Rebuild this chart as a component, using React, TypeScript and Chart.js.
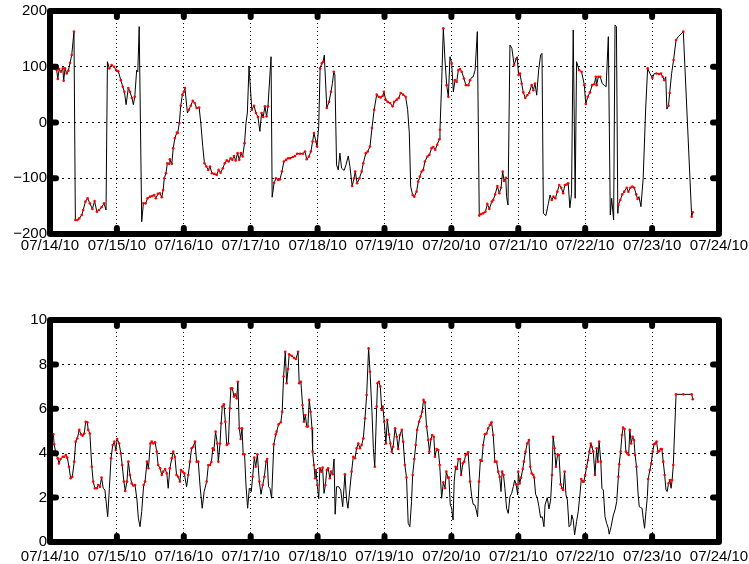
import React, { useEffect, useRef } from 'react';
import { Chart, registerables } from 'chart.js';

Chart.register(...registerables);

// ---- categories / tick labels ----
const dayLabels = ['07/14/10', '07/15/10', '07/16/10', '07/17/10', '07/18/10', '07/19/10', '07/20/10', '07/21/10', '07/22/10', '07/23/10', '07/24/10'];
const topTicks = [-200, -100, 0, 100, 200];
const botTicks = [0, 2, 4, 6, 8, 10];

// ---- top series: hours since 07/14/10 00:00, value, valid flag (1 = red marker) ----
const topHours = [
  0.0, 0.6, 1.2, 1.8, 2.4, 2.8, 3.3, 3.9, 4.6, 4.9,
  5.4, 6.0, 6.6, 7.2, 7.8, 8.6, 9.1, 9.8, 10.5, 11.4,
  11.9, 12.7, 13.5, 14.3, 15.2, 16.0, 16.8, 17.6, 18.5, 19.4,
  20.1, 20.6, 21.3, 22.1, 23.0, 23.7, 24.5, 25.4, 26.1, 26.7,
  27.3, 28.1, 28.7, 29.4, 29.9, 30.4, 31.1, 31.5, 32.0, 32.9,
  33.5, 34.3, 35.0, 35.9, 36.7, 37.4, 38.0, 38.7, 39.4, 40.1,
  40.6, 41.0, 41.6, 42.1, 42.7, 43.0, 43.7, 44.2, 44.8, 45.5,
  45.8, 46.4, 46.9, 47.5, 48.0, 48.4, 49.3, 49.8, 50.5, 51.2,
  51.9, 52.6, 53.5, 54.1, 54.8, 55.4, 56.1, 56.8, 57.4, 58.1,
  58.9, 59.8, 60.5, 61.2, 62.0, 62.7, 63.4, 64.1, 64.8, 65.4,
  66.0, 66.6, 67.3, 67.9, 68.5, 69.1, 69.8, 70.3, 70.8, 71.4,
  72.4, 73.2, 73.9, 74.6, 75.3, 75.9, 76.5, 77.1, 77.7, 78.2,
  79.3, 79.7, 80.4, 81.1, 81.9, 82.5, 83.2, 83.9, 84.7, 85.4,
  86.1, 87.1, 87.9, 88.7, 89.7, 90.7, 91.5, 92.1, 92.9, 93.6,
  94.2, 94.7, 95.4, 95.8, 96.4, 96.9, 97.5, 98.0, 98.4, 99.3,
  100.1, 100.8, 101.3, 101.8, 102.2, 102.8, 103.4, 104.0, 104.6, 105.5,
  106.2, 107.0, 107.6, 108.4, 109.1, 109.5, 110.2, 111.0, 111.8, 112.4,
  113.3, 114.0, 114.8, 115.5, 116.3, 117.2, 117.9, 118.6, 119.4, 119.8,
  120.4, 121.1, 122.0, 122.9, 123.5, 124.4, 125.1, 125.8, 126.7, 127.6,
  128.3, 128.9, 129.4, 130.1, 130.7, 131.5, 132.1, 132.7, 133.3, 133.9,
  134.5, 135.4, 136.1, 136.9, 137.5, 138.2, 138.9, 139.7, 139.9, 140.5,
  141.1, 141.7, 142.3, 142.9, 143.5, 144.1, 144.7, 145.3, 145.9, 146.5,
  147.1, 147.7, 148.5, 149.2, 150.1, 150.7, 151.3, 151.8, 152.5, 153.3,
  154.0, 154.7, 155.4, 156.2, 156.9, 157.6, 158.5, 159.0, 159.7, 160.5,
  161.2, 161.8, 162.4, 162.9, 163.5, 163.8, 164.3, 165.0, 165.7, 166.5,
  167.2, 167.6, 168.1, 168.6, 169.2, 169.8, 170.5, 171.2, 171.9, 172.8,
  173.4, 174.0, 174.6, 175.3, 176.0, 176.5, 177.0, 177.9, 178.8, 179.4,
  180.0, 180.6, 181.3, 182.0, 182.7, 183.4, 184.1, 184.7, 185.4, 185.9,
  186.5, 187.1, 187.7, 188.4, 188.9, 189.8, 190.7, 191.7, 192.2, 192.9,
  193.7, 194.5, 195.3, 195.8, 196.1, 196.7, 197.4, 198.1, 198.8, 199.5,
  200.3, 201.0, 201.5, 202.2, 202.7, 203.2, 203.7, 203.9, 204.6, 205.3,
  206.0, 206.9, 207.5, 208.2, 208.9, 209.6, 210.3, 210.8, 211.3, 212.0,
  212.8, 213.7, 214.4, 215.2, 216.1, 216.8, 217.6, 218.5, 219.2, 219.8,
  220.4, 220.9, 221.3, 221.9, 222.3, 223.0, 223.7, 224.6, 225.4, 227.2,
  230.2, 230.6,
];
const topValues = [
  108, 105, 100, 97, 94, 78, 96, 91, 97, 75,
  97, 88, 93, 107, 121, 163, -175, -175, -172, -166,
  -157, -142, -136, -145, -155, -141, -160, -157, -152, -145,
  -157, 109, 97, 103, 100, 94, 92, 76, 64, 55,
  32, 62, 55, 44, 32, 46, 94, 91, 172, -178,
  -145, -145, -136, -133, -132, -130, -136, -128, -127, -134,
  -121, -100, -91, -73, -74, -66, -74, -46, -28, -18,
  -19, -1, 30, 50, 55, 62, 17, 23, 30, 39,
  35, 26, 27, -1, -43, -73, -79, -85, -79, -91,
  -92, -94, -85, -90, -82, -73, -68, -70, -64, -67,
  -60, -68, -55, -67, -55, -61, -37, -1, 17, 100,
  23, 30, 17, 10, -16, 17, 10, 29, 11, 29,
  118, -134, -108, -100, -103, -102, -88, -70, -67, -64,
  -64, -62, -60, -56, -56, -56, -52, -66, -61, -52,
  -34, -19, -34, -43, -7, 97, 106, 109, 121, 26,
  37, 55, 70, 91, 85, -76, -85, -55, -82, -86,
  -76, -60, -79, -114, -100, -88, -109, -100, -88, -73,
  -55, -52, -43, -10, 23, 50, 46, 45, 48, 55,
  41, 37, 35, 29, 37, 41, 44, 53, 50, 46,
  23, -19, -115, -130, -133, -124, -106, -97, -88, -85,
  -70, -61, -58, -46, -44, -49, -40, -30, -13, 70,
  169, 112, 67, 46, 118, 106, 55, 76, 73, 94,
  96, 91, 79, 67, 67, 76, 81, 82, 94, 163,
  -167, -164, -163, -160, -146, -155, -142, -139, -129, -114,
  -127, -117, -88, -105, -99, -133, -148, 139, 133, 103,
  114, 118, 85, 88, 70, 54, 44, 49, 53, 67,
  58, 70, 49, 94, 121, 124, -163, -167, -145, -130,
  -139, -133, -136, -124, -112, -117, -127, -112, -111, -109,
  -153, -127, 166, -136, 109, 94, 91, 67, 33, 46,
  54, 67, 69, 82, 67, 82, 82, 70, 67, 64,
  154, -166, -136, -175, 175, 172, -163, -148, -139, -129,
  -124, -117, -124, -117, -115, -117, -129, -137, -133, -151,
  -100, 26, 97, 88, 80, 88, 88, 87, 88, 82,
  76, 82, 24, 30, 53, 88, 112, 148, 154, 163,
  -169, -161,
];
const topValid =
  '1111111111' + '1111111111' + '1111111111' + '0011111111' + '0111010000' +
  '1111111111' + '1111111111' + '1111110111' + '1110011111' + '1111111111' +
  '1111111000' + '1111011111' + '0011111111' + '1111111111' + '1111011101' +
  '1101000000' + '0001111111' + '1111111111' + '1111111111' + '0001111111' +
  '1111111110' + '1011010111' + '1111110000' + '1111111111' + '1111100001' +
  '1011111111' + '1100000000' + '1111111111' + '0000011111' + '1111111000' +
  '0000000111' + '1111111100' + '0010101111' + '1001101101' + '11';

// ---- bottom series ----
const botHours = [
  0.0, 0.4, 1.2, 1.5, 2.2, 2.8, 3.2, 3.8, 4.6, 5.1,
  5.7, 6.2, 6.8, 7.4, 8.0, 8.7, 9.2, 9.8, 10.5, 11.1,
  11.7, 12.3, 12.8, 13.4, 13.7, 14.3, 15.0, 15.5, 16.1, 16.8,
  17.3, 17.9, 18.5, 19.1, 19.7, 20.7, 21.3, 21.9, 22.5, 23.1,
  23.6, 24.1, 24.8, 25.4, 25.9, 26.5, 27.0, 27.6, 28.1, 28.7,
  29.3, 29.9, 30.5, 31.2, 31.7, 32.3, 32.9, 33.6, 34.1, 34.8,
  35.3, 36.0, 36.5, 37.1, 37.7, 38.3, 38.8, 39.5, 40.1, 40.6,
  41.3, 41.9, 42.4, 43.0, 43.7, 44.2, 44.8, 45.4, 46.0, 46.6,
  47.0, 47.6, 48.2, 49.0, 49.6, 50.2, 50.8, 51.4, 52.0, 52.6,
  53.2, 53.8, 54.6, 55.3, 56.2, 56.8, 57.4, 57.9, 58.4, 58.8,
  59.4, 60.0, 60.4, 61.0, 61.4, 61.8, 62.4, 62.9, 63.4, 64.0,
  64.5, 64.9, 65.4, 66.0, 66.5, 67.0, 67.4, 67.9, 68.4, 68.9,
  69.3, 69.8, 70.3, 70.9, 71.5, 72.2, 72.7, 73.3, 73.8, 74.4,
  75.1, 75.7, 76.3, 76.9, 77.5, 77.9, 78.4, 78.9, 79.5, 80.3,
  81.0, 81.3, 82.0, 82.8, 83.3, 83.8, 84.4, 84.9, 85.4, 85.8,
  86.7, 87.5, 88.2, 89.0, 89.4, 90.0, 90.6, 91.1, 91.6, 92.1,
  92.5, 93.0, 93.5, 94.0, 94.2, 94.7, 95.1, 95.4, 95.9, 96.4,
  96.8, 97.3, 97.8, 98.3, 98.8, 99.3, 99.8, 100.4, 100.9, 101.4,
  101.9, 102.3, 102.8, 103.6, 104.3, 105.0, 105.8, 106.4, 106.9, 107.6,
  108.2, 108.8, 109.4, 110.0, 110.6, 111.2, 111.8, 112.4, 113.0, 113.6,
  114.3, 114.8, 115.5, 116.0, 116.5, 117.2, 117.5, 118.0, 118.5, 119.0,
  119.4, 119.9, 120.5, 121.0, 121.6, 122.1, 122.6, 123.1, 123.8, 124.4,
  124.9, 125.5, 126.2, 126.7, 127.3, 127.9, 128.5, 129.1, 129.7, 130.1,
  130.7, 131.2, 131.7, 132.4, 133.0, 133.5, 134.0, 134.5, 135.1, 135.7,
  136.1, 136.7, 137.1, 137.7, 138.1, 138.7, 139.3, 139.8, 140.5, 141.1,
  141.7, 142.2, 142.7, 143.1, 143.6, 144.1, 144.6, 145.0, 145.5, 146.0,
  146.5, 147.1, 147.5, 148.1, 148.6, 149.1, 149.6, 150.0, 150.7, 151.3,
  151.8, 152.4, 152.9, 153.4, 153.9, 154.4, 154.9, 155.4, 156.0, 156.6,
  157.2, 157.8, 158.4, 159.0, 159.6, 160.2, 160.8, 161.3, 161.8, 162.2,
  162.7, 163.2, 163.8, 164.4, 165.0, 165.6, 166.2, 166.7, 167.2, 167.8,
  168.0, 168.5, 169.0, 169.6, 170.0, 170.6, 171.2, 171.8, 172.3, 172.8,
  173.4, 173.7, 174.2, 174.8, 175.4, 176.0, 176.6, 177.2, 177.6, 178.4,
  179.0, 179.6, 180.1, 180.5, 181.0, 181.5, 182.1, 182.6, 183.2, 183.7,
  184.1, 184.6, 185.1, 185.6, 186.2, 186.8, 187.2, 187.7, 188.2, 188.9,
  189.5, 190.1, 190.6, 191.1, 191.5, 192.0, 192.5, 193.0, 193.5, 194.0,
  194.4, 194.9, 195.5, 196.1, 196.5, 197.0, 197.6, 198.0, 198.5, 199.1,
  199.7, 200.3, 200.6, 201.3, 202.1, 202.7, 203.3, 203.9, 204.2, 204.7,
  205.2, 205.6, 206.1, 206.6, 207.1, 207.6, 208.0, 208.5, 209.0, 209.5,
  209.9, 210.4, 211.0, 211.4, 211.9, 212.4, 212.8, 213.3, 213.8, 214.3,
  214.6, 215.2, 215.7, 216.2, 216.7, 217.1, 217.6, 218.1, 218.6, 219.1,
  219.5, 220.0, 220.5, 221.0, 221.4, 221.9, 222.4, 222.8, 223.2, 223.6,
  224.6, 227.2, 230.2, 230.6,
];
const botValues = [
  4.64, 4.52, 4.85, 4.4, 3.92, 3.77, 3.54, 3.74, 3.84, 3.84,
  3.92, 3.8, 3.39, 2.87, 2.94, 3.62, 4.52, 4.67, 5.05, 4.85,
  4.79, 4.89, 5.42, 5.39, 5.05, 4.89, 3.39, 2.72, 2.42, 2.42,
  2.57, 2.49, 2.9, 2.42, 2.34, 1.14, 2.42, 3.77, 4.37, 4.52,
  4.14, 4.64, 4.44, 3.99, 3.47, 2.72, 2.3, 2.72, 3.62, 3.02,
  2.64, 2.54, 2.57, 1.89, 1.07, 0.69, 1.37, 2.57, 2.72, 3.62,
  3.32, 4.44, 4.52, 4.44, 4.49, 4.07, 3.47, 3.32, 3.02, 3.17,
  3.29, 3.09, 2.42, 3.32, 3.77, 4.07, 3.84, 3.02, 2.94, 2.72,
  3.24, 3.17, 3.09, 2.49, 3.02, 3.62, 4.22, 4.29, 4.52, 3.62,
  3.62, 2.57, 1.52, 2.27, 2.72, 3.47, 3.47, 3.6, 4.22, 4.14,
  4.97, 4.44, 3.62, 4.44, 5.35, 6.1, 6.2, 5.42, 4.37, 4.44,
  6.02, 6.92, 6.92, 6.55, 6.65, 6.47, 7.22, 5.12, 4.64, 5.12,
  3.95, 3.95, 2.57, 1.52, 2.42, 2.27, 2.94, 3.8, 3.39, 3.95,
  2.72, 2.15, 2.57, 2.94, 3.62, 3.74, 2.49, 2.42, 1.97, 4.4,
  4.85, 4.97, 5.3, 5.39, 5.87, 7.45, 8.57, 7.15, 7.79, 8.45,
  8.39, 8.3, 8.24, 8.57, 7.15, 7.22, 6.17, 5.42, 5.72, 5.2,
  5.2, 6.4, 5.87, 5.12, 4.07, 3.47, 2.87, 3.24, 2.57, 1.94,
  3.32, 3.17, 3.35, 2.19, 2.57, 3.24, 3.32, 2.87, 3.17, 3.05,
  3.74, 1.25, 2.49, 2.49, 2.34, 1.59, 3.05, 1.89, 1.52, 2.42,
  3.17, 3.84, 3.77, 4.22, 4.44, 4.22, 4.37, 4.67, 5.57, 6.62,
  8.72, 7.67, 5.87, 4.22, 3.39, 6.1, 7.15, 7.22, 7.0, 5.95,
  6.1, 5.42, 4.44, 5.5, 4.85, 4.44, 4.07, 4.29, 5.12, 4.74,
  4.19, 4.82, 5.05, 4.52, 3.47, 2.9, 0.84, 0.69, 1.82, 3.02,
  3.74, 4.37, 5.05, 5.42, 5.65, 5.87, 6.4, 6.29, 5.2, 4.59,
  4.07, 4.64, 4.82, 4.74, 3.84, 4.19, 4.14, 3.47, 1.97, 2.69,
  2.42, 3.17, 2.9, 2.9, 1.67, 1.52, 0.99, 2.72, 3.39, 3.29,
  3.74, 3.74, 3.02, 3.54, 3.62, 3.92, 3.95, 4.04, 2.72, 2.04,
  1.7, 1.67, 1.44, 1.14, 2.72, 3.69, 3.65, 4.37, 4.85, 4.89,
  5.12, 5.27, 5.39, 4.82, 3.62, 3.62, 3.17, 2.94, 2.27, 3.17,
  3.02, 2.42, 1.52, 1.29, 2.04, 2.19, 2.49, 2.79, 2.6, 2.12,
  3.17, 2.64, 2.9, 3.29, 3.62, 4.07, 4.44, 4.59, 3.39, 3.09,
  3.02, 2.9, 2.15, 2.0, 1.59, 1.1, 1.14, 0.69, 1.67, 2.0,
  1.49, 1.89, 3.02, 4.74, 4.22, 3.39, 3.95, 3.92, 2.6, 2.42,
  2.34, 3.17, 2.12, 1.89, 0.69, 0.77, 1.22, 0.99, 0.32, 0.92,
  1.37, 2.12, 2.84, 2.72, 2.72, 3.02, 3.39, 3.69, 4.07, 4.44,
  4.29, 4.07, 3.02, 4.22, 3.62, 4.52, 3.62, 2.42, 2.34, 1.14,
  0.84, 0.62, 0.35, 0.69, 1.22, 1.44, 1.82, 2.94, 3.5, 4.07,
  4.82, 5.15, 5.09, 4.07, 3.99, 3.92, 5.05, 4.44, 4.74, 4.59,
  3.92, 3.39, 2.12, 1.59, 1.55, 1.52, 1.07, 0.62, 1.37, 2.04,
  2.84, 3.24, 3.54, 4.07, 4.4, 4.44, 4.52, 4.07, 4.1, 4.19,
  4.19, 3.62, 3.02, 2.34, 2.27, 2.64, 2.79, 2.42, 2.79, 3.47,
  6.65, 6.65, 6.65, 6.43,
];
const botValid =
  '1111111111' + '1111111111' + '1111111111' + '1110000111' + '1111111111' +
  '1110000111' + '1111111111' + '1101111111' + '1110111111' + '1000111111' +
  '1111111111' + '1111111111' + '1100001111' + '1011110001' + '1111111111' +
  '1111111111' + '1111111110' + '1110111111' + '0000001000' + '1111111111' +
  '1100111111' + '1111111111' + '1111110001' + '1111111111' + '1111111101' +
  '1111000011' + '1111111110' + '0000111111' + '1111111101' + '1000000010' +
  '1111111111' + '1100000000' + '0011111111' + '1100000000' + '0011111111' +
  '1111111000' + '0000000111' + '1111111111' + '1100000000' + '1111111111' +
  '1110011011' + '1111';

const FONT = { family: "'Liberation Sans', Arial, Helvetica, sans-serif", size: 15 };

const fmtY = (v: number) => (v < 0 ? '\u2212' + Math.abs(v) : String(v));

const framePlugin = {
  id: 'matlabFrame',
  afterDraw(chart: any) {
    const { ctx, chartArea: a, scales } = chart;
    const L = 6;
    ctx.save();
    ctx.strokeStyle = '#000';
    ctx.lineCap = 'round';
    ctx.lineJoin = 'round';
    ctx.lineWidth = 6;
    const seg = (x1: number, y1: number, x2: number, y2: number) => {
      ctx.beginPath();
      ctx.moveTo(x1, y1);
      ctx.lineTo(x2, y2);
      ctx.stroke();
    };
    scales.x.ticks.forEach((t: any) => {
      const px = scales.x.getPixelForValue(t.value);
      if (px <= a.left + 2 || px >= a.right - 2) return;
      seg(px, a.top, px, a.top + L);
      seg(px, a.bottom, px, a.bottom - L);
    });
    scales.y.ticks.forEach((t: any) => {
      const py = scales.y.getPixelForValue(t.value);
      if (py <= a.top + 2 || py >= a.bottom - 2) return;
      seg(a.left, py, a.left + L, py);
      seg(a.right, py, a.right - L, py);
    });
    ctx.strokeRect(a.left, a.top, a.right - a.left, a.bottom - a.top);
    ctx.restore();
  },
};

function buildConfig(
  hours: number[],
  values: number[],
  valid: string,
  yMin: number,
  yMax: number,
  yTicks: number[],
  padTop: number,
  xAxisHeight: number,
  xLabelPad: number,
) {
  const all = hours.map((h, i) => ({ x: h, y: values[i] }));
  const marked = all.filter((_, i) => valid[i] === '1');
  return {
    type: 'line',
    data: {
      datasets: [
        {
          data: marked,
          showLine: false,
          pointRadius: 1.3,
          pointBorderWidth: 0,
          pointBackgroundColor: '#ff0000',
          borderColor: '#ff0000',
          order: 0,
        },
        {
          data: all,
          borderColor: '#000000',
          borderWidth: 1,
          pointRadius: 0,
          tension: 0,
          fill: false,
          order: 1,
        },
      ],
    },
    options: {
      animation: false,
      responsive: false,
      maintainAspectRatio: false,
      events: [],
      layout: { padding: { top: padTop, right: 30, left: 0, bottom: 0 } },
      plugins: { legend: { display: false }, tooltip: { enabled: false } },
      scales: {
        x: {
          type: 'linear',
          min: 0,
          max: 240,
          afterBuildTicks: (s: any) => {
            s.ticks = dayLabels.map((_, i) => ({ value: i * 24 }));
          },
          ticks: {
            callback: (v: number) => dayLabels[Math.round(v / 24)],
            autoSkip: false,
            maxRotation: 0,
            minRotation: 0,
            padding: xLabelPad,
            color: '#000',
            font: FONT,
          },
          grid: { color: '#000', lineWidth: 1, drawTicks: false },
          border: { display: false, dash: [1, 3] },
          afterFit: (s: any) => {
            s.height = xAxisHeight;
            s.paddingLeft = 0;
            s.paddingRight = 0;
          },
        },
        y: {
          type: 'linear',
          min: yMin,
          max: yMax,
          afterBuildTicks: (s: any) => {
            s.ticks = yTicks.map((v) => ({ value: v }));
          },
          ticks: {
            callback: (v: number) => fmtY(v),
            padding: 3,
            color: '#000',
            font: FONT,
          },
          grid: { color: '#000', lineWidth: 1, drawTicks: false },
          border: { display: false, dash: [2, 4] },
          afterFit: (s: any) => {
            s.width = 50;
            s.paddingTop = 0;
            s.paddingBottom = 0;
          },
        },
      },
    },
    plugins: [framePlugin],
  };
}

export default function App() {
  const topRef = useRef<HTMLCanvasElement>(null);
  const botRef = useRef<HTMLCanvasElement>(null);

  useEffect(() => {
    const c1 = new Chart(
      topRef.current as HTMLCanvasElement,
      buildConfig(topHours, topValues, topValid, -200, 200, topTicks, 11, 42, 3) as any,
    );
    const c2 = new Chart(
      botRef.current as HTMLCanvasElement,
      buildConfig(botHours, botValues, botValid, 0, 10, botTicks, 40, 22, 6) as any,
    );
    return () => {
      c1.destroy();
      c2.destroy();
    };
  }, []);

  return (
    <div style={{ position: 'absolute', left: 0, top: 0, width: 749, height: 564, background: '#fff' }}>
      <canvas
        ref={topRef}
        width={749}
        height={276}
        style={{ position: 'absolute', left: 0, top: 0, width: 749, height: 276 }}
      />
      <canvas
        ref={botRef}
        width={749}
        height={284}
        style={{ position: 'absolute', left: 0, top: 280, width: 749, height: 284 }}
      />
    </div>
  );
}
